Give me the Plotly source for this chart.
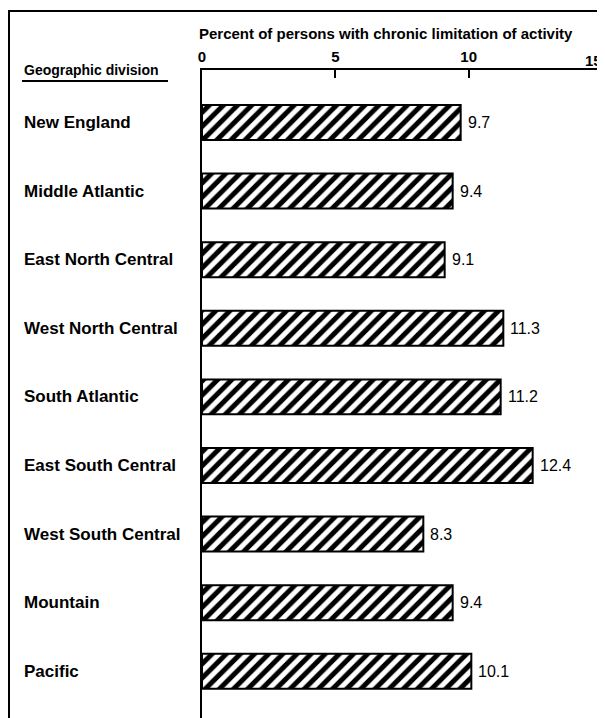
import plotly.graph_objects as go

divisions = ["New England", "Middle Atlantic", "East North Central", "West North Central",
             "South Atlantic", "East South Central", "West South Central", "Mountain", "Pacific"]
percent = [9.7, 9.4, 9.1, 11.3, 11.2, 12.4, 8.3, 9.4, 10.1]
x_ticks = [0, 5, 10, 15]

FONT = "Liberation Sans, Arial, sans-serif"
W, H = 605, 718
L, T, B = 194, 62, 0
PW = 400
R = W - L - PW
PH = H - T - B


def px(xf):
    return (xf - L) / PW


def py(yf):
    return (H - B - yf) / PH


fig = go.Figure()
fig.add_trace(go.Bar(
    y=divisions, x=percent, orientation="h", width=0.51,
    marker=dict(color="white", line=dict(color="black", width=2),
                pattern=dict(shape="/", fgcolor="black", bgcolor="white", size=10,
                             solidity=0.5, fgopacity=1)),
))

# value labels
for d, v in zip(divisions, percent):
    fig.add_annotation(x=v, xref="x", y=d, yref="y", text=f"{v:.1f}", showarrow=False,
                       xanchor="left", yanchor="middle", xshift=5,
                       font=dict(family=FONT, size=16, color="black"))

# category labels on the left
for d in divisions:
    fig.add_annotation(x=px(14), xref="paper", y=d, yref="y", text=f"<b>{d}</b>",
                       showarrow=False, xanchor="left", yanchor="middle",
                       font=dict(family=FONT, size=17, color="black"))

fig.add_annotation(x=px(14), xref="paper", y=py(62), yref="paper",
                   text="<b>Geographic division</b>", showarrow=False, xanchor="left", yanchor="middle",
                   font=dict(family=FONT, size=14, color="black"))
fig.add_annotation(x=px(189), xref="paper", y=py(25), yref="paper",
                   text="<b>Percent of persons with chronic limitation of activity</b>", showarrow=False,
                   xanchor="left", yanchor="middle", font=dict(family=FONT, size=15, color="black"))

# last tick label, kept inside the frame
fig.add_annotation(x=x_ticks[-1], xref="x", y=py(52), yref="paper", text=f"<b>{x_ticks[-1]}</b>",
                   showarrow=False, xanchor="right", yanchor="middle", xshift=2,
                   font=dict(family=FONT, size=15, color="black"))

# underline and outer frame
fig.add_shape(type="line", xref="paper", yref="paper", x0=px(14), x1=px(160),
              y0=py(73), y1=py(73), line=dict(color="black", width=2))
fig.add_shape(type="rect", xref="paper", yref="paper", x0=px(1), x1=px(595),
              y0=-0.02, y1=py(3), line=dict(color="black", width=2))

fig.update_xaxes(range=[0, 15], side="top", tickvals=x_ticks,
                 ticktext=[f"<b>{t}</b>" for t in x_ticks[:-1]] + [""],
                 ticks="inside", ticklen=8, tickwidth=2, tickcolor="black",
                 showline=True, linecolor="black", linewidth=2, showgrid=False, zeroline=False,
                 tickfont=dict(family=FONT, size=15, color="black"))
fig.update_yaxes(range=[-0.765 + PH / 68.6, -0.765], showticklabels=False, ticks="",
                 showline=True, linecolor="black", linewidth=2, showgrid=False, zeroline=False)

fig.update_layout(width=W, height=H, margin=dict(l=L, r=R, t=T, b=B, autoexpand=False),
                  paper_bgcolor="white", plot_bgcolor="white", showlegend=False,
                  font=dict(family=FONT, color="black"))

fig.write_html("out.html")
